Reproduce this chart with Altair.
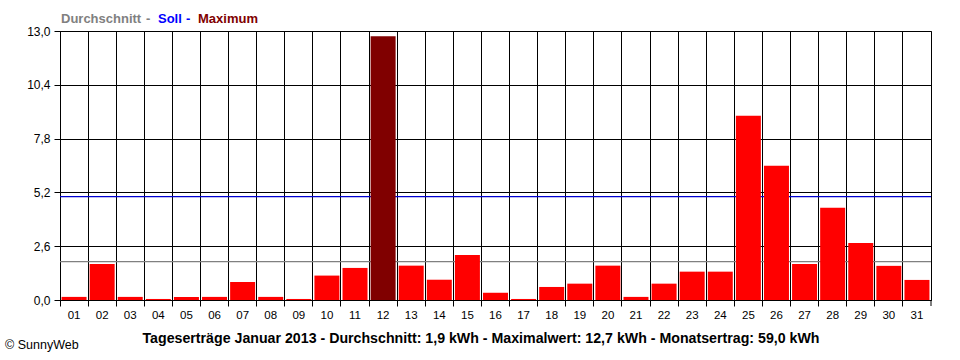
import altair as alt
import pandas as pd

# ---- data ----
days = ["01", "02", "03", "04", "05", "06", "07", "08", "09", "10",
        "11", "12", "13", "14", "15", "16", "17", "18", "19", "20",
        "21", "22", "23", "24", "25", "26", "27", "28", "29", "30", "31"]
kwh = [0.15, 1.74, 0.15, 0.05, 0.15, 0.15, 0.87, 0.15, 0.05, 1.18,
       1.55, 12.75, 1.66, 0.98, 2.18, 0.35, 0.05, 0.63, 0.79, 1.66,
       0.15, 0.79, 1.37, 1.37, 8.91, 6.49, 1.74, 4.46, 2.76, 1.65, 0.97]
y_ticks = [0.0, 2.6, 5.2, 7.8, 10.4, 13.0]
average_value = [1.85]
target_value = [5.0]
legend_words = ["Durchschnitt", "-", "Soll", "-", "Maximum"]
footer_title = ["Tageserträge Januar 2013 - Durchschnitt: 1,9 kWh - Maximalwert: 12,7 kWh - Monatsertrag: 59,0 kWh"]
copyright_text = ["© SunnyWeb"]

FONT = "Liberation Sans"

df = pd.DataFrame({"day": days, "kwh": kwh})
df["kind"] = ["max" if v == max(kwh) else "normal" for v in kwh]

x_enc = alt.X(
    "day:O", sort=days,
    scale=alt.Scale(paddingInner=0, paddingOuter=0),
    axis=alt.Axis(
        title=None, labelAngle=0, bandPosition=0,
        grid=True, gridColor="black", gridWidth=1, gridOpacity=1,
        tickColor="black", tickSize=6, tickWidth=1,
        domainColor="black", domainWidth=1,
        labelFont=FONT, labelFontSize=11.5, labelColor="black", labelPadding=3,
    ),
)
y_enc = alt.Y(
    "kwh:Q",
    scale=alt.Scale(domain=[0, 13], nice=False, zero=True),
    axis=alt.Axis(
        title=None, values=y_ticks,
        labelExpr="replace(format(datum.value, '.1f'), '.', ',')",
        grid=True, gridColor="black", gridWidth=1, gridOpacity=1,
        tickColor="black", tickSize=6, tickWidth=1,
        domainColor="black", domainWidth=1,
        labelFont=FONT, labelFontSize=12, labelColor="black", labelPadding=4,
    ),
)

avg_rule = alt.Chart(pd.DataFrame({"v": average_value})).mark_rule(color="#808080", strokeWidth=1.3).encode(
    y=alt.Y("v:Q", scale=alt.Scale(domain=[0, 13], nice=False))
)
soll_rule = alt.Chart(pd.DataFrame({"v": target_value})).mark_rule(color="#0000d0", strokeWidth=1.3).encode(
    y=alt.Y("v:Q", scale=alt.Scale(domain=[0, 13], nice=False))
)

bars = alt.Chart(df).mark_bar(width=alt.RelativeBandSize(0.89), strokeWidth=0).encode(
    x=x_enc,
    y=y_enc,
    color=alt.Color("kind:N", scale=alt.Scale(domain=["normal", "max"], range=["#ff0000", "#800000"]), legend=None),
)

# closing tick at the right end of the x axis
end_tick = alt.Chart(pd.DataFrame({"a": [0]})).mark_rule(color="black", strokeWidth=1).encode(
    x=alt.value(871), y=alt.value(269), y2=alt.value(275)
)

legend_colors = ["#808080", "#808080", "#0000ff", "#0000ff", "#800000"]
legend_x = [1, 86, 98, 126, 138]
legend_layers = []
for word, col, xp in zip(legend_words, legend_colors, legend_x):
    legend_layers.append(
        alt.Chart(pd.DataFrame({"t": [word]})).mark_text(
            align="left", baseline="alphabetic", font=FONT, fontSize=13, fontWeight="bold", color=col
        ).encode(text="t:N", x=alt.value(xp), y=alt.value(-8))
    )

footer = alt.Chart(pd.DataFrame({"t": footer_title})).mark_text(
    align="center", baseline="alphabetic", font=FONT, fontSize=14.2, fontWeight="bold", color="black"
).encode(text="t:N", x=alt.value(421), y=alt.value(312))

copyright_mark = alt.Chart(pd.DataFrame({"t": copyright_text})).mark_text(
    align="left", baseline="alphabetic", font=FONT, fontSize=12.5, color="black"
).encode(text="t:N", x=alt.value(-55), y=alt.value(318))

chart = alt.layer(avg_rule, soll_rule, bars, end_tick, *legend_layers, footer, copyright_mark).properties(
    width=871, height=269,
    autosize=alt.AutoSizeParams(type="none"),
    padding={"left": 60, "top": 31, "right": 29, "bottom": 60},
    background="white",
).configure_view(stroke="black", strokeWidth=1)

chart.save("out.html", embed_options={"renderer": "svg", "actions": False})
